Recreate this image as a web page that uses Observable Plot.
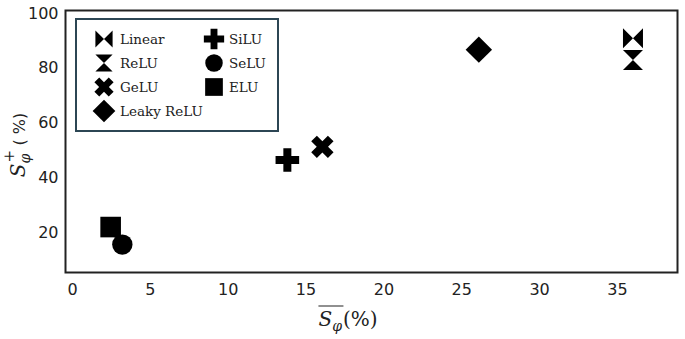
<!DOCTYPE html>
<html>
<head>
<meta charset="utf-8">
<script src="https://cdn.jsdelivr.net/npm/d3@7"></script>
<script src="https://cdn.jsdelivr.net/npm/@observablehq/plot@0.6"></script>
<style>
  body { margin: 0; background: #fff; }
  #wrap { position: relative; width: 685px; height: 339px; overflow: hidden; }
  #legend { position: absolute; left: 75px; top: 18px; width: 204px; height: 114px; box-sizing: border-box; border: 2px solid #2c4654; background: #fff; }
  #ylab { position: absolute; left: 18px; top: 145px; transform: translate(-50%, -50%) rotate(-90deg); white-space: nowrap; font-family: "DejaVu Sans", sans-serif; font-size: 16px; color: #222; }
  #xlab { position: absolute; left: 348px; top: 317px; transform: translate(-50%, -50%); white-space: nowrap; font-family: "DejaVu Serif", serif; font-size: 20px; color: #222; line-height: 1; }
  .ser { font-family: "DejaVu Serif", serif; }
</style>
</head>
<body>
<div id="wrap"></div>
<script>
// ---- data ----
const names = ["Linear", "ReLU", "GeLU", "Leaky ReLU", "SiLU", "SeLU", "ELU"];
const xs = [36.0, 36.0, 16.05, 26.1, 13.8, 3.2, 2.45];
const ys = [91.0, 83.0, 51.3, 86.8, 46.5, 15.6, 22.0];
const xTicks = [0, 5, 10, 15, 20, 25, 30, 35];
const yTicks = [20, 40, 60, 80, 100];
const legendCol1 = ["Linear", "ReLU", "GeLU", "Leaky ReLU"];
const legendCol2 = ["SiLU", "SeLU", "ELU"];

const rows = names.map((n, i) => ({name: n, x: xs[i], y: ys[i]}));

// ---- custom symbols (r = sqrt(size/pi)) ----
function poly(ctx, pts) {
  ctx.moveTo(pts[0][0], pts[0][1]);
  for (let i = 1; i < pts.length; i++) ctx.lineTo(pts[i][0], pts[i][1]);
  ctx.closePath();
}
function crossPts(L, a, rot) {
  const p = [[-a,-L],[a,-L],[a,-a],[L,-a],[L,a],[a,a],[a,L],[-a,L],[-a,a],[-L,a],[-L,-a],[-a,-a]];
  const c = Math.cos(rot), s = Math.sin(rot);
  return p.map(([x, y]) => [x * c - y * s, x * s + y * c]);
}
const R = s => Math.sqrt(s / Math.PI);
const SYM = {
  "Linear": {draw(ctx, size) { const r = R(size); poly(ctx, [[-r,-r],[0,0],[-r,r]]); poly(ctx, [[r,-r],[0,0],[r,r]]); }},
  "ReLU": {draw(ctx, size) { const r = R(size); poly(ctx, [[-r,-r],[r,-r],[0,0]]); poly(ctx, [[-r,r],[r,r],[0,0]]); }},
  "GeLU": {draw(ctx, size) { const r = R(size); poly(ctx, crossPts(r * 1.18, r * 0.4, Math.PI / 4)); }},
  "Leaky ReLU": {draw(ctx, size) { const r = R(size) * 1.32; poly(ctx, [[0,-r],[r,0],[0,r],[-r,0]]); }},
  "SiLU": {draw(ctx, size) { const r = R(size); poly(ctx, crossPts(r * 1.18, r * 0.4, 0)); }},
  "SeLU": {draw(ctx, size) { const r = R(size) * 1.02; ctx.moveTo(r, 0); ctx.arc(0, 0, r, 0, 2 * Math.PI); }},
  "ELU": {draw(ctx, size) { const r = R(size) * 1.03; poly(ctx, [[-r,-r],[r,-r],[r,r],[-r,r]]); }}
};

// ---- plot ----
const plot = Plot.plot({
  width: 685,
  height: 339,
  marginLeft: 65,
  marginRight: 8,
  marginTop: 10,
  marginBottom: 67,
  style: {fontFamily: "DejaVu Sans, sans-serif", fontSize: "16px", color: "#222", background: "#fff"},
  x: {domain: [-0.45, 38.86]},
  y: {domain: [5.4, 101.1]},
  marks: [
    Plot.frame({stroke: "#222", strokeWidth: 2}),
    Plot.axisX({ticks: xTicks, tickSize: 0, tickPadding: 11, label: null, tickFormat: d => String(d)}),
    Plot.axisY({ticks: yTicks, tickSize: 0, tickPadding: 7, label: null, tickFormat: d => String(d)}),
    ...names.map(n => Plot.dot(rows, {filter: d => d.name === n, x: "x", y: "y", symbol: SYM[n], r: 10, fill: "black", stroke: "none"}))
  ]
});

const wrap = document.getElementById("wrap");
wrap.appendChild(plot);

// ---- legend ----
const leg = document.createElement("div");
leg.id = "legend";
wrap.appendChild(leg);
const lsvg = d3.select(leg).append("svg").attr("width", 200).attr("height", 110).style("display", "block");
const rowY = [19, 43, 67, 91];
function addItem(name, i, sx, tx) {
  lsvg.append("path")
    .attr("transform", `translate(${sx},${rowY[i]})`)
    .attr("d", d3.symbol(SYM[name], Math.PI * 8.6 * 8.6)())
    .attr("fill", "black");
  lsvg.append("text")
    .attr("x", tx).attr("y", rowY[i]).attr("dy", "0.35em")
    .attr("font-family", "DejaVu Serif, serif").attr("font-size", 13.5).attr("fill", "#222")
    .text(name);
}
legendCol1.forEach((n, i) => addItem(n, i, 27, 43));
legendCol2.forEach((n, i) => addItem(n, i, 137, 152));

// ---- axis labels ----
const yl = document.createElement("div");
yl.id = "ylab";
yl.innerHTML = '<span class="ser" style="font-style:italic;font-size:20px">S</span><span style="display:inline-block;position:relative;width:13px;height:10px"><span class="ser" style="position:absolute;left:1px;top:-15px;font-size:15px">+</span><span class="ser" style="position:absolute;left:0;top:2px;font-size:14px;font-style:italic">φ</span></span><span> ( %)</span>';
wrap.appendChild(yl);

const xl = document.createElement("div");
xl.id = "xlab";
xl.innerHTML = '<span style="display:inline-block;border-top:1.5px solid #222;padding-top:2px;padding-right:1px"><span style="font-style:italic">S</span><span style="font-size:14px;font-style:italic;position:relative;top:5px">φ</span></span><span>(%)</span>';
wrap.appendChild(xl);
</script>
</body>
</html>
